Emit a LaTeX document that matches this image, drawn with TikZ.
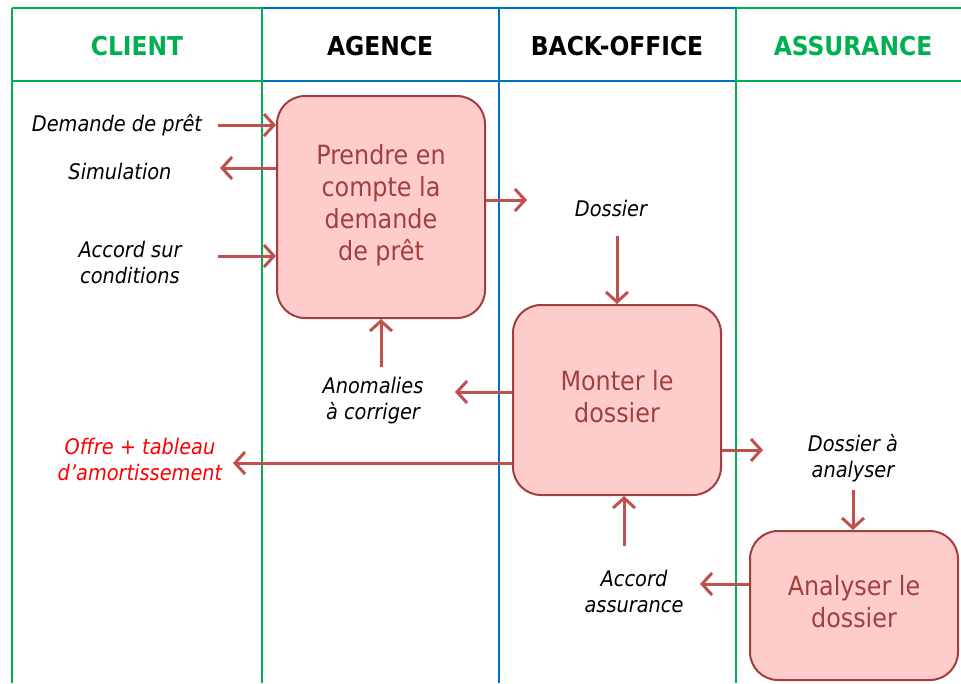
\documentclass[tikz,border=0pt]{standalone}
\usepackage{fontspec}
\setmainfont{DejaVu Sans Condensed}
\usetikzlibrary{arrows.meta}
\definecolor{lgreen}{HTML}{00B050}
\definecolor{lblue}{HTML}{0070C0}
\definecolor{boxfill}{HTML}{FFCCCC}
\definecolor{boxdraw}{HTML}{A0403E}
\definecolor{boxtext}{HTML}{A0403E}
\definecolor{arrowc}{HTML}{C0504D}
\begin{document}
\begin{tikzpicture}[x=1pt,y=-1pt,
  box/.style={draw=boxdraw, fill=boxfill, line width=2pt, rounded corners=28pt, text=boxtext,
    font=\fontsize{26.5}{32}\selectfont, align=center, inner sep=0pt},
  boxtxt/.style={text=boxtext, font=\fontsize{26.5}{32}\selectfont, align=center, inner sep=0pt},
  lbl/.style={font=\itshape\fontsize{21.5}{26}\selectfont, align=center, inner sep=1pt},
  hdr/.style={font=\bfseries\fontsize{26}{30}\selectfont},
  arr/.style={draw=arrowc, line width=3pt, -{Straight Barb[length=10pt,width=22pt,line width=3pt]}},
  gline/.style={draw=lgreen, line width=2pt},
  bline/.style={draw=lblue, line width=2pt}]
\useasboundingbox (0,0) rectangle (961,683);
% lanes
\draw[bline] (262,8) -- (736,8);
\draw[bline] (262,81) -- (736,81);
\draw[bline] (499,8) -- (499,683);
\draw[gline] (12,8) -- (262,8);
\draw[gline] (12,81) -- (262,81);
\draw[gline] (736,8) -- (961,8);
\draw[gline] (736,81) -- (961,81);
\draw[gline] (12,8) -- (12,683);
\draw[gline] (262,8) -- (262,683);
\draw[gline] (736,8) -- (736,683);
% headers
\node[hdr, text=lgreen] (hclient) at (137,46) {CLIENT};
\node[hdr] (hagence) at (380,46) {AGENCE};
\node[hdr] (hback) at (617,46) {BACK-OFFICE};
\node[hdr, text=lgreen] (hass) at (853,46) {ASSURANCE};
% boxes
\node[box, minimum width=208pt, minimum height=222pt] (b1) at (381,207) {};
\node[boxtxt] (t1) at (381,205) {Prendre en\\compte la\\demande\\de prêt};
\node[box, minimum width=208pt, minimum height=190pt] (b2) at (617,400) {};
\node[boxtxt] (t2) at (617,397) {Monter le\\dossier};
\node[box, minimum width=208pt, minimum height=149pt] (b3) at (854,605.5) {};
\node[boxtxt] (t3) at (854,601.5) {Analyser le\\dossier};
% labels
\node[lbl] (ldem) at (117,125) {Demande de prêt};
\node[lbl] (lsim) at (120,171) {Simulation};
\node[lbl] (lacc) at (130,262) {Accord sur\\conditions};
\node[lbl] (ldos) at (611,208) {Dossier};
\node[lbl] (lano) at (373,401) {Anomalies\\à corriger};
\node[lbl, text=red] (loff) at (140,459) {Offre + tableau\\d’amortissement};
\node[lbl] (ldosa) at (853,458) {Dossier à\\analyser};
\node[lbl] (laccass) at (634,591) {Accord\\assurance};
% connectors
\coordinate (c1) at (218,125);
\coordinate (c2) at (220,168);
\coordinate (c3) at (218,256);
\coordinate (c4) at (527,200);
\coordinate (c5) at (617,236);
\coordinate (c6) at (381,367);
\coordinate (c7) at (455,392);
\coordinate (c8) at (233,463);
\coordinate (c9) at (763,450);
\coordinate (c10) at (853,490);
\coordinate (c11) at (624,546);
\coordinate (c12) at (700,584);
\draw[arr] (c1) -- (c1 -| b1.west);
\draw[arr] (c2 -| b1.west) -- (c2);
\draw[arr] (c3) -- (c3 -| b1.west);
\draw[arr] (c4 -| b1.east) -- (c4);
\draw[arr] (c5) -- (c5 |- b2.north);
\draw[arr] (c6) -- (c6 |- b1.south);
\draw[arr] (c7 -| b2.west) -- (c7);
\draw[arr] (c8 -| b2.west) -- (c8);
\draw[arr] (c9 -| b2.east) -- (c9);
\draw[arr] (c10) -- (c10 |- b3.north);
\draw[arr] (c11) -- (c11 |- b2.south);
\draw[arr] (c12 -| b3.west) -- (c12);
\end{tikzpicture}
\end{document}
